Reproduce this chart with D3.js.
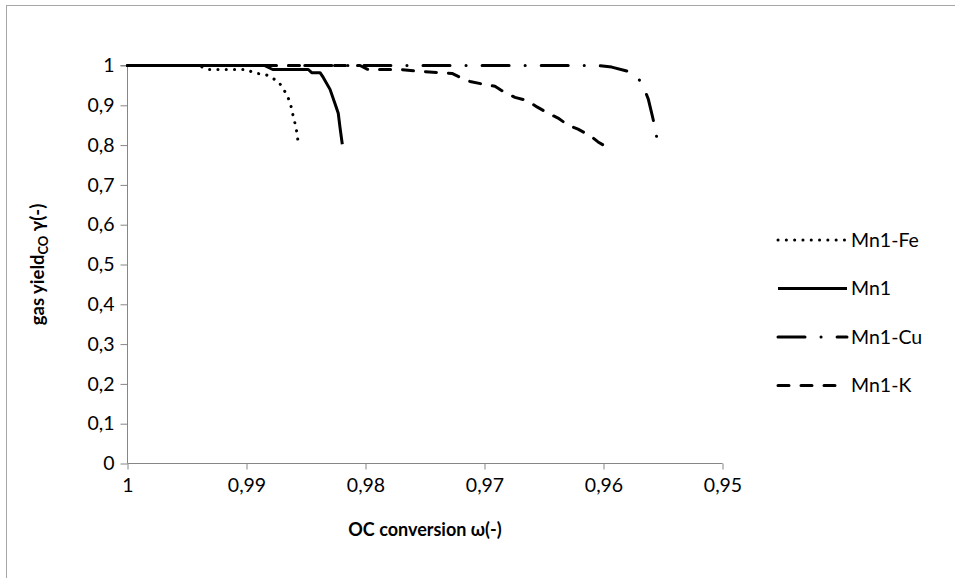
<!DOCTYPE html>
<html>
<head>
<meta charset="utf-8">
<script src="https://cdn.jsdelivr.net/npm/d3@7"></script>
<style>
  html, body { margin: 0; padding: 0; background: #fff; }
  svg { display: block; }
  text { font-family: Lato, "Open Sans", "DejaVu Sans", sans-serif; fill: #000; }
</style>
</head>
<body>
<svg id="chart" width="955" height="578"></svg>
<script>
// ---- data ----
const seriesNames = ["Mn1-Fe", "Mn1", "Mn1-Cu", "Mn1-K"];

const fe_omega = [1, 0.9940, 0.9933, 0.9900, 0.98943, 0.98830, 0.98733, 0.98691, 0.98662, 0.98634, 0.98620, 0.98607, 0.98592, 0.98578, 0.98570, 0.98555];
const fe_gamma = [1, 1, 0.990, 0.990, 0.982, 0.976, 0.960, 0.942, 0.926, 0.908, 0.890, 0.872, 0.854, 0.834, 0.816, 0.795];

const mn1_omega = [1, 0.98850, 0.98780, 0.98761, 0.98481, 0.98452, 0.98382, 0.98355, 0.98298, 0.98256, 0.98229, 0.98214, 0.98195];
const mn1_gamma = [1, 1, 0.990, 0.990, 0.990, 0.982, 0.982, 0.970, 0.940, 0.904, 0.880, 0.844, 0.802];

const cu_omega = [1, 0.96050, 0.95931, 0.95777, 0.95708, 0.95666, 0.95624, 0.95595, 0.95567, 0.95535];
const cu_gamma = [1, 1, 0.996, 0.984, 0.968, 0.948, 0.916, 0.880, 0.844, 0.788];

const k_omega = [1, 0.98046, 0.97979, 0.97878, 0.97710, 0.97542, 0.97374, 0.97273, 0.97189, 0.97122, 0.96996, 0.96912, 0.96828, 0.96744, 0.96643, 0.96559, 0.96466, 0.96382, 0.96298, 0.96214, 0.96113, 0.96046, 0.95945];
const k_gamma = [1, 1, 0.990, 0.990, 0.990, 0.985, 0.982, 0.980, 0.968, 0.960, 0.952, 0.948, 0.932, 0.920, 0.912, 0.896, 0.880, 0.868, 0.850, 0.840, 0.824, 0.808, 0.790];

const xTicks = [1, 0.99, 0.98, 0.97, 0.96, 0.95];
const yTicks = [0, 0.1, 0.2, 0.3, 0.4, 0.5, 0.6, 0.7, 0.8, 0.9, 1];

// ---- build ----
const omegas = [fe_omega, mn1_omega, cu_omega, k_omega];
const gammas = [fe_gamma, mn1_gamma, cu_gamma, k_gamma];
const dashes = [
  {dash: "0.1,8.2", cap: "round"},
  {dash: null, cap: "butt"},
  {dash: "27,16,0.1,16", cap: "round"},
  {dash: "11,12", cap: "round"}
];
const series = seriesNames.map((n, i) => ({
  name: n,
  style: dashes[i],
  points: omegas[i].map((w, j) => ({w: w, g: gammas[i][j]}))
}));

const svg = d3.select("#chart");
const x = d3.scaleLinear().domain([1, 0.95]).range([127.5, 722.5]);
const y = d3.scaleLinear().domain([0, 1]).range([463.5, 65.5]);

// outer frame
svg.append("rect").attr("x", 6.5).attr("y", 5.5).attr("width", 1000).attr("height", 1000)
  .attr("fill", "none").attr("stroke", "#a6a6a6").attr("stroke-width", 1);

const fmt = d => d === 1 ? "1" : d === 0 ? "0" : String(+d.toFixed(2)).replace(".", ",");

// y axis
const yAxis = svg.append("g").attr("transform", "translate(127.5,0)")
  .call(d3.axisLeft(y).tickValues(yTicks).tickSize(7).tickPadding(6).tickFormat(fmt));
// x axis
const xAxis = svg.append("g").attr("transform", "translate(0,463.5)")
  .call(d3.axisBottom(x).tickValues(xTicks).tickSize(6).tickPadding(9).tickFormat(fmt));
[yAxis, xAxis].forEach(a => {
  a.select(".domain").attr("stroke", "#868686").attr("stroke-width", 1);
  a.selectAll(".tick line").attr("stroke", "#868686");
  a.selectAll(".tick text").style("font-size", "19.5px").attr("fill", "#000");
});
yAxis.select(".domain").attr("d", `M-7,${y(1)}H0V${y(0)}`);
xAxis.select(".domain").attr("d", `M${x(1)},0H${x(0.95)}`);

// lines
const line = d3.line().x(d => x(d.w)).y(d => y(d.g));
series.forEach(s => {
  svg.append("path").datum(s.points)
    .attr("d", line)
    .attr("fill", "none")
    .attr("stroke", "#000")
    .attr("stroke-width", 3)
    .attr("stroke-linejoin", "round")
    .attr("stroke-linecap", s.style.cap)
    .attr("stroke-dasharray", s.style.dash);
});

// axis titles
svg.append("text").attr("x", (x(1) + x(0.95)) / 2).attr("y", 536)
  .attr("text-anchor", "middle").style("font-size", "18px").style("font-weight", "bold")
  .text("OC conversion ω(-)");

const yt = svg.append("text")
  .attr("transform", `translate(44,${(y(0) + y(1)) / 2}) rotate(-90)`)
  .attr("text-anchor", "middle").style("font-size", "18.5px").style("font-weight", "bold");
yt.append("tspan").text("gas yield");
yt.append("tspan").attr("dy", 4).style("font-size", "13px").text("CO");
yt.append("tspan").attr("dy", -4).text(" γ(-)");

// legend
const leg = svg.append("g");
series.forEach((s, i) => {
  const ly = 240 + i * 48.5;
  leg.append("line").attr("x1", 778).attr("x2", 847).attr("y1", ly).attr("y2", ly)
    .attr("stroke", "#000").attr("stroke-width", 3)
    .attr("stroke-linecap", s.style.cap)
    .attr("stroke-dasharray", s.style.dash);
  leg.append("text").attr("x", 851).attr("y", ly).attr("dy", "0.35em")
    .style("font-size", "19.5px").text(s.name);
});
</script>
</body>
</html>
